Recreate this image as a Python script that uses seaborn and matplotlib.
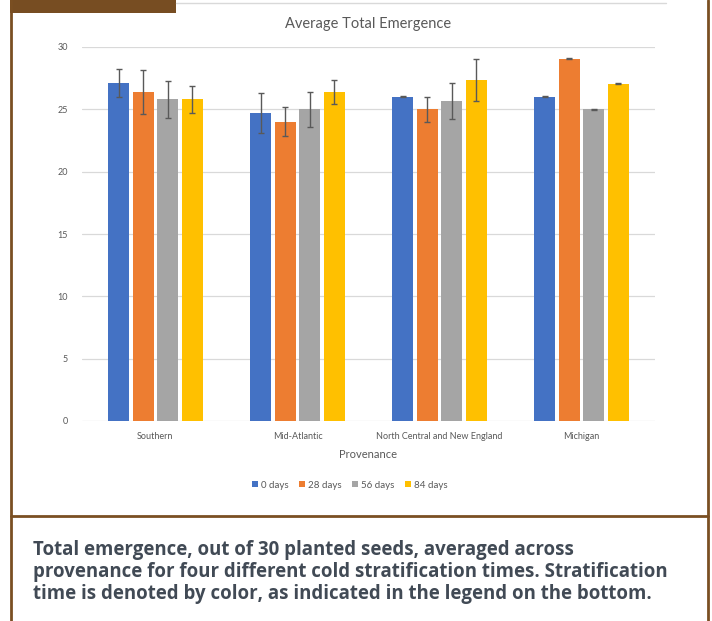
import numpy as np
import pandas as pd
import matplotlib
matplotlib.use("Agg")
import matplotlib.pyplot as plt
from matplotlib.lines import Line2D
from matplotlib.patches import Rectangle
import seaborn as sns

# data
provenance = ["Southern", "Mid-Atlantic", "North Central and New England", "Michigan"]
strat_times = ["0 days", "28 days", "56 days", "84 days"]
means_0 = [27.1, 24.7, 26.0, 26.0]
means_28 = [26.4, 24.0, 25.0, 29.05]
means_56 = [25.8, 25.0, 25.7, 25.0]
means_84 = [25.8, 26.4, 27.35, 27.05]
err_0 = [1.1, 1.6, 0.05, 0.05]
err_28 = [1.75, 1.15, 1.0, 0.04]
err_56 = [1.5, 1.4, 1.45, 0.03]
err_84 = [1.1, 0.95, 1.65, 0.04]
colors = ["#4472C4", "#ED7D31", "#A5A5A5", "#FFC000"]

rows = []
for t, m, e in zip(strat_times, [means_0, means_28, means_56, means_84],
                   [err_0, err_28, err_56, err_84]):
    for p, mv, ev in zip(provenance, m, e):
        rows.append({"Provenance": p, "Stratification": t, "mean": mv, "err": ev})
df = pd.DataFrame(rows)

sns.set_style("white")
plt.rcParams["font.family"] = ["Lato", "DejaVu Sans"]

W, H = 712, 621
fig = plt.figure(figsize=(W / 100, H / 100), dpi=100)
ax = fig.add_axes([82 / W, (H - 421) / H, 573 / W, 374 / H])

sns.barplot(data=df, x="Provenance", y="mean", hue="Stratification",
            order=provenance, hue_order=strat_times, palette=colors,
            saturation=1, width=0.69, gap=0.14, errorbar=None, linewidth=0,
            ax=ax, legend=True)

# error bars on top of each bar
for cont, t in zip(ax.containers, strat_times):
    sub = df[df["Stratification"] == t].set_index("Provenance").loc[provenance]
    xs = [b.get_x() + b.get_width() / 2 for b in cont]
    ax.errorbar(xs, sub["mean"].values, yerr=sub["err"].values, fmt="none",
                ecolor="#595959", elinewidth=1, capsize=2.5, capthick=1, zorder=5)

ax.set_ylim(0, 30)
ax.set_yticks(range(0, 31, 5))
ax.yaxis.grid(True, color="#d9d9d9", linewidth=0.9)
ax.set_axisbelow(True)
for s in ax.spines.values():
    s.set_visible(False)
ax.tick_params(axis="both", length=0, labelsize=6.5, labelcolor="#595959")
ax.tick_params(axis="y", pad=10)
ax.tick_params(axis="x", pad=8)
ax.set_ylabel("")
ax.set_xlabel("Provenance", fontsize=8, color="#595959", labelpad=6)
ax.set_title("Average Total Emergence", fontsize=10.5, color="#595959", pad=14)

handles, labels = ax.get_legend_handles_labels()
ax.get_legend().remove()
fig.legend(handles, labels, loc="center", bbox_to_anchor=(350 / W, (H - 485) / H),
           ncol=4, frameon=False, fontsize=7, labelcolor="#595959",
           handlelength=0.6, handleheight=0.6, handletextpad=0.3,
           columnspacing=1.1)

# page frame
brown = "#7a4f22"
def px(x, y):
    return x / W, (H - y) / H
fig.add_artist(Rectangle(px(10, 13), 166 / W, 13 / H, transform=fig.transFigure,
                         facecolor="#774d22", edgecolor="none"))
fig.add_artist(Line2D([176 / W, 666 / W], [(H - 3) / H] * 2, transform=fig.transFigure,
                      color="#d9d9d9", linewidth=1))
fig.add_artist(Line2D([11 / W, 11 / W], [0, 1], transform=fig.transFigure,
                      color=brown, linewidth=2))
fig.add_artist(Line2D([708 / W, 708 / W], [0, 1], transform=fig.transFigure,
                      color=brown, linewidth=2))
fig.add_artist(Line2D([11 / W, 708 / W], [(H - 516) / H] * 2, transform=fig.transFigure,
                      color=brown, linewidth=2))

caption = ("Total emergence, out of 30 planted seeds, averaged across\n"
           "provenance for four different cold stratification times. Stratification\n"
           "time is denoted by color, as indicated in the legend on the bottom.")
fig.text(33 / W, (H - 572) / H, caption, ha="left", va="center", fontsize=13.4,
         fontweight="bold", color="#414a55", linespacing=1.15,
         family=["Open Sans", "DejaVu Sans"])

fig.savefig("out.png", dpi=100)
